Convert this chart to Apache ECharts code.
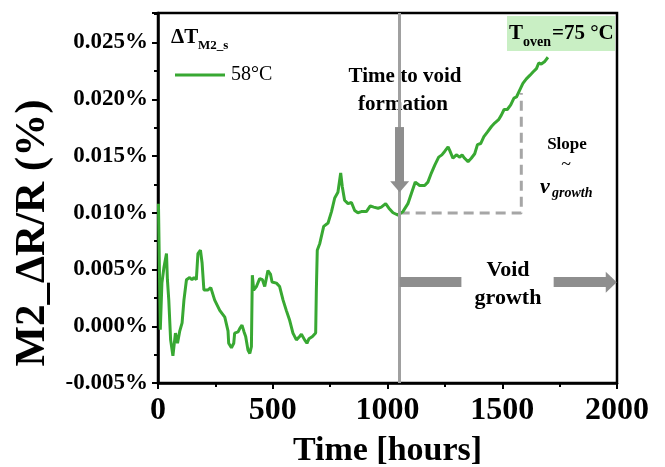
<!DOCTYPE html>
<html>
<head>
<meta charset="utf-8">
<script src="https://cdn.jsdelivr.net/npm/echarts@6.0.0/dist/echarts.min.js"></script>
<style>
html, body { margin: 0; padding: 0; background: #fff; }
#main { width: 665px; height: 467px; }
</style>
</head>
<body>
<div id="main"></div>
<script>
// time in hours, M2 dR/R in percent
const hours = [
  2, 10, 17, 26, 37, 41, 47, 55, 65, 76,
  85, 95, 105, 113, 124, 138, 148, 157, 167, 174,
  185, 192, 200, 218, 230, 247, 269, 291, 305, 308,
  320, 330, 334, 349, 356, 366, 375, 382, 392, 400,
  407, 411, 417, 429, 443, 455, 465, 479, 490, 497,
  516, 530, 545, 559, 574, 588, 603, 617, 625, 639,
  649, 658, 673, 687, 690, 694, 705, 722, 741, 756,
  770, 784, 796, 803, 813, 828, 843, 857, 871, 886,
  908, 925, 940, 959, 973, 992, 1006, 1024, 1046, 1053,
  1067, 1089, 1104, 1121, 1140, 1162, 1176, 1191, 1206, 1223,
  1237, 1249, 1264, 1271, 1285, 1300, 1315, 1325, 1336, 1351,
  1365, 1380, 1392, 1406, 1420, 1435, 1453, 1467, 1484, 1496,
  1508, 1522, 1537, 1551, 1562, 1576, 1590, 1605, 1620, 1634,
  1649, 1659, 1670, 1684, 1699
];
const deltaR = [
  0.0108, -0.0003, 0.0038, 0.0052, 0.0064, 0.0041, 0.0023, -0.0012, -0.0026, -0.0006,
  -0.0015, -0.0004, 0.0003, 0.0023, 0.0041, 0.0043, 0.0041, 0.0043, 0.0041, 0.0064,
  0.0067, 0.0056, 0.0032, 0.0032, 0.0034, 0.0023, 0.0014, 0.0008, -0.0004, -0.0015,
  -0.0019, -0.0015, -0.0006, -0.0005, -0.0002, 0.0001, -0.0005, -0.0009, -0.0021, -0.0024,
  -0.0018, 0.0045, 0.0032, 0.0035, 0.0042, 0.0041, 0.0035, 0.0049, 0.0046, 0.0039,
  0.0038, 0.0035, 0.0023, 0.0014, 0.0005, -0.0006, -0.0012, -0.0009, -0.0007, -0.0012,
  -0.0015, -0.0011, -0.0009, -0.0006, 0.0032, 0.0067, 0.0073, 0.0088, 0.0091, 0.0101,
  0.0113, 0.0118, 0.0135, 0.0123, 0.0111, 0.0108, 0.0109, 0.0102, 0.0100, 0.0101,
  0.0101, 0.0106, 0.0105, 0.0104, 0.0105, 0.0108, 0.0104, 0.0100, 0.0098, 0.0099,
  0.0101, 0.0108, 0.0117, 0.0127, 0.0124, 0.0124, 0.0127, 0.0135, 0.0142, 0.0149,
  0.0151, 0.0154, 0.0158, 0.0155, 0.0148, 0.0151, 0.0149, 0.0151, 0.0148, 0.0145,
  0.0148, 0.0152, 0.0160, 0.0161, 0.0167, 0.0171, 0.0176, 0.0179, 0.0182, 0.0186,
  0.0191, 0.0191, 0.0195, 0.0201, 0.0202, 0.0208, 0.0214, 0.0218, 0.0221, 0.0224,
  0.0227, 0.0232, 0.0231, 0.0233, 0.0237
];
const seriesName = '58°C';

// annotations (data coordinates)
const voidTime = 1053;
const slopePath = [[1053, 0.00997], [1583, 0.00997], [1583, 0.02055]];
const downArrow = [[1053, 0.01755], [1053, 0.01230]];
const growthLeft = [[1053, 0.00388], [1322, 0.00388]];
const growthRight = [[1724, 0.00388], [1975, 0.00388]];

var chart = echarts.init(document.getElementById('main'));
var serif = '"Liberation Serif", "Times New Roman", serif';
var green = '#38a832';
var grey = '#8e8e8e';

var lineData = hours.map(function (h, i) { return [h, deltaR[i]]; });

var option = {
  animation: false,
  grid: {
    left: 158, right: 48, top: 13, bottom: 84,
    outerBoundsMode: 'none',
    show: true, borderColor: '#000', borderWidth: 2.5
  },
  legend: {
    data: [{ name: seriesName, icon: 'rect' }],
    left: 170, top: 60,
    itemWidth: 50, itemHeight: 3, itemGap: 5,
    textStyle: { fontFamily: serif, fontSize: 20, color: '#000', padding: [0, 0, 0, 1] }
  },
  xAxis: {
    type: 'value', min: 0, max: 2000, interval: 500,
    name: 'Time [hours]', nameLocation: 'middle', nameGap: 51,
    nameTextStyle: { fontFamily: serif, fontWeight: 'bold', fontSize: 34, color: '#000' },
    axisLine: { onZero: false, lineStyle: { color: '#000', width: 2.5 } },
    axisTick: { length: 6, lineStyle: { color: '#000', width: 2 } },
    minorTick: { show: true, splitNumber: 2, length: 4, lineStyle: { color: '#000', width: 2 } },
    splitLine: { show: false },
    axisLabel: {
      fontFamily: serif, fontWeight: 'bold', fontSize: 32, color: '#000', margin: 12,
      formatter: function (v) { return String(v); }
    }
  },
  yAxis: {
    type: 'value', min: -0.005, max: 0.0276, interval: 0.005,
    axisLine: { onZero: false, lineStyle: { color: '#000', width: 2.5 } },
    axisTick: { length: 6, lineStyle: { color: '#000', width: 2 } },
    minorTick: { show: true, splitNumber: 2, length: 4, lineStyle: { color: '#000', width: 2 } },
    splitLine: { show: false },
    axisLabel: {
      fontFamily: serif, fontWeight: 'bold', fontSize: 23, color: '#000', margin: 10,
      showMaxLabel: false,
      formatter: function (v) { return v.toFixed(3) + '%'; }
    }
  },
  series: [
    {
      name: 'slope', type: 'line', data: slopePath, symbol: 'none', silent: true, z: 2,
      lineStyle: { color: '#a6a6a6', width: 3, type: [10, 6] }
    },
    {
      name: seriesName, type: 'line', data: lineData, symbol: 'none', showSymbol: false, z: 3,
      itemStyle: { color: green },
      lineStyle: { color: green, width: 3 }
    },
    {
      name: 'marks', type: 'line', data: [], z: 4,
      markLine: {
        silent: true, animation: false,
        symbol: ['none', 'none'],
        label: { show: false },
        data: [
          { xAxis: voidTime, lineStyle: { color: '#a0a0a0', width: 3, type: 'solid' } },
          [
            { coord: downArrow[0], symbol: 'none', lineStyle: { color: grey, width: 9, type: 'solid' } },
            { coord: downArrow[1], symbol: 'triangle', symbolSize: [19, 11] }
          ],
          [
            { coord: growthLeft[0], symbol: 'none', lineStyle: { color: grey, width: 10, type: 'solid' } },
            { coord: growthLeft[1], symbol: 'none' }
          ],
          [
            { coord: growthRight[0], symbol: 'none', lineStyle: { color: grey, width: 10, type: 'solid' } },
            { coord: growthRight[1], symbol: 'triangle', symbolSize: [21, 11] }
          ]
        ]
      }
    }
  ],
  graphic: [
    { type: 'text', x: 33, y: 233, rotation: Math.PI / 2,
      style: { text: 'M2_ΔR/R (%)', font: 'bold 43px ' + serif, fill: '#000', textAlign: 'center', textVerticalAlign: 'middle' } },
    { type: 'text', x: 171, y: 38, style: { text: 'ΔT', font: 'bold 21px ' + serif, fill: '#000', textVerticalAlign: 'middle' } },
    { type: 'text', x: 198, y: 46, style: { text: 'M2_s', font: 'bold 13px ' + serif, fill: '#000', textVerticalAlign: 'middle' } },
    { type: 'rect', shape: { x: 507, y: 16, width: 108, height: 35 }, style: { fill: '#c9efc4' } },
    { type: 'text', x: 509, y: 34, style: { text: 'T', font: 'bold 21px ' + serif, fill: '#000', textVerticalAlign: 'middle' } },
    { type: 'text', x: 523, y: 42, style: { text: 'oven', font: 'bold 14px ' + serif, fill: '#000', textVerticalAlign: 'middle' } },
    { type: 'text', x: 552, y: 34, style: { text: '=75 °C', font: 'bold 21px ' + serif, fill: '#000', textVerticalAlign: 'middle' } },
    { type: 'text', x: 405, y: 77, style: { text: 'Time to void', font: 'bold 21px ' + serif, fill: '#000', textAlign: 'center', textVerticalAlign: 'middle' } },
    { type: 'text', x: 403, y: 105, style: { text: 'formation', font: 'bold 21px ' + serif, fill: '#000', textAlign: 'center', textVerticalAlign: 'middle' } },
    { type: 'text', x: 567, y: 145, style: { text: 'Slope', font: 'bold 17px ' + serif, fill: '#000', textAlign: 'center', textVerticalAlign: 'middle' } },
    { type: 'text', x: 566, y: 165, style: { text: '~', font: '18px ' + serif, fill: '#000', textAlign: 'center', textVerticalAlign: 'middle' } },
    { type: 'text', x: 540, y: 187, style: { text: 'v', font: 'italic bold 22px ' + serif, fill: '#000', textVerticalAlign: 'middle' } },
    { type: 'text', x: 552, y: 193, style: { text: 'growth', font: 'italic bold 14px ' + serif, fill: '#000', textVerticalAlign: 'middle' } },
    { type: 'text', x: 508, y: 270, style: { text: 'Void', font: 'bold 22px ' + serif, fill: '#000', textAlign: 'center', textVerticalAlign: 'middle' } },
    { type: 'text', x: 508, y: 298, style: { text: 'growth', font: 'bold 22px ' + serif, fill: '#000', textAlign: 'center', textVerticalAlign: 'middle' } }
  ]
};

chart.setOption(option);
window.onresize = chart.resize;
</script>
</body>
</html>
